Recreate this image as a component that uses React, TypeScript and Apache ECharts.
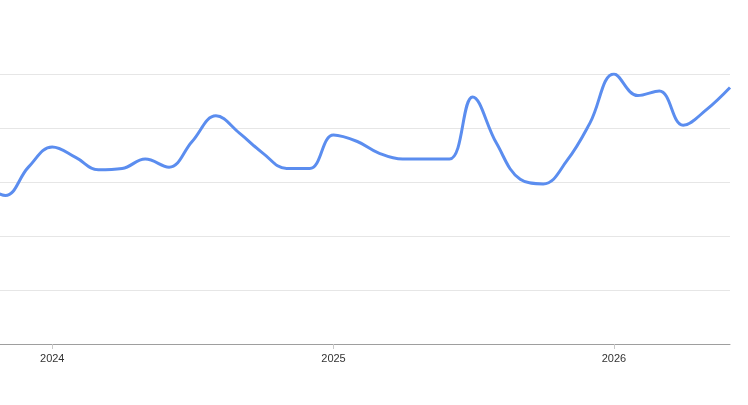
import React, { useEffect, useRef } from "react";
import * as echarts from "echarts";

const months = [
  "2023-10", "2023-11", "2023-12",
  "2024-01", "2024-02", "2024-03", "2024-04", "2024-05", "2024-06",
  "2024-07", "2024-08", "2024-09", "2024-10", "2024-11", "2024-12",
  "2025-01", "2025-02", "2025-03", "2025-04", "2025-05", "2025-06",
  "2025-07", "2025-08", "2025-09", "2025-10", "2025-11", "2025-12",
  "2026-01", "2026-02", "2026-03", "2026-04", "2026-05", "2026-06",
];
const values = [
  60, 55, 65.5,
  73, 69, 64.5, 65, 68.5, 65.5,
  75, 84.5, 78, 70.7, 65, 65,
  77.4, 75, 70.7, 68.5, 68.5, 68.5,
  91.5, 74.4, 61, 59.3, 68, 82,
  100, 92, 93.7, 81, 86.7, 95,
];
const yearTicks = ["2024-01", "2025-01", "2026-01"];
const axisStart = "2023-10-25";
const axisEnd = "2026-06-01";

function ts(s: string): number {
  const p = s.split("-").map(Number);
  return Date.UTC(p[0], p[1] - 1, p[2] || 1);
}

export default function App() {
  const ref = useRef<HTMLDivElement>(null);
  useEffect(() => {
    if (!ref.current) return;
    const chart = echarts.init(ref.current, undefined, { renderer: "svg" });
    const tickVals = yearTicks.map(ts);
    chart.setOption({
      animation: false,
      grid: { left: 0, right: 18, top: 74, bottom: 61, containLabel: false },
      xAxis: {
        type: "value",
        min: ts(axisStart),
        max: ts(axisEnd),
        axisLine: { show: true, onZero: false, lineStyle: { color: "#9e9e9e", width: 1 } },
        axisTick: {
          show: true,
          length: 5,
          lineStyle: { color: "#c8c8c8" },
          customValues: tickVals,
        },
        axisLabel: {
          customValues: tickVals,
          formatter: (v: number) => String(new Date(v).getUTCFullYear()),
          color: "#333333",
          fontSize: 11,
          fontFamily: "Arial, Liberation Sans, sans-serif",
          margin: 8,
        },
        splitLine: { show: false },
      },
      yAxis: {
        type: "value",
        min: 0,
        max: 100,
        interval: 20,
        axisLine: { show: false },
        axisTick: { show: false },
        axisLabel: { show: false },
        splitLine: { show: true, lineStyle: { color: "#e6e6e6", width: 1 } },
      },
      series: [
        {
          type: "line",
          data: months.map((m, i) => [ts(m), values[i]]),
          smooth: 0.4,
          showSymbol: false,
          symbol: "none",
          lineStyle: { color: "#5b8def", width: 3 },
          clip: true,
        },
      ],
    });
    return () => chart.dispose();
  }, []);
  return (
    <div
      ref={ref}
      style={{ position: "fixed", left: 0, top: 0, width: 748, height: 405 }}
    />
  );
}
